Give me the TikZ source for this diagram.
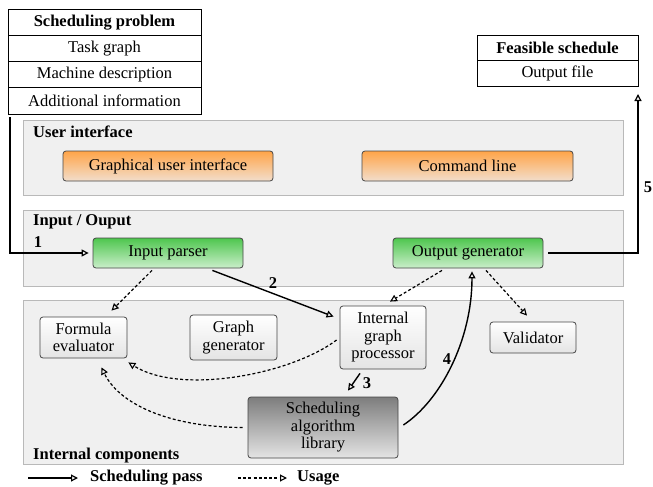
\documentclass[tikz,border=0pt]{standalone}
\usepackage{fontspec}
\setmainfont{Liberation Serif}
\usetikzlibrary{arrows.meta}

\definecolor{panelfill}{RGB}{240,240,240}
\definecolor{paneldraw}{RGB}{185,185,185}
\definecolor{boxdraw}{RGB}{70,70,70}
\definecolor{orangetop}{RGB}{255,164,72}
\definecolor{orangebot}{RGB}{242,222,204}
\definecolor{greentop}{RGB}{78,198,78}
\definecolor{greenbot}{RGB}{202,238,202}
\definecolor{libtop}{RGB}{125,125,125}
\definecolor{libbot}{RGB}{228,228,228}
\definecolor{plaintop}{RGB}{255,255,255}
\definecolor{plainbot}{RGB}{228,228,228}

\tikzset{
  txt/.style={font=\fontsize{16.5}{17.5}\selectfont},
  boldtxt/.style={font=\fontsize{16.5}{17.5}\selectfont\bfseries},
  panel/.style={draw=paneldraw, fill=panelfill, line width=0.9pt},
  cell/.style={draw=black, line width=0.8pt, fill=white, inner sep=0pt,
    minimum width=193pt, minimum height=26.25pt, txt},
  fcell/.style={cell, minimum width=161pt, minimum height=25.5pt},
  comp/.style={draw=boxdraw, line width=0.8pt, rounded corners=3pt,
    inner sep=0pt, align=center, txt},
  plainbox/.style={comp, top color=plaintop, bottom color=plainbot},
  orangebox/.style={comp, top color=orangetop, bottom color=orangebot},
  greenbox/.style={comp, top color=greentop, bottom color=greenbot},
  libbox/.style={comp, top color=libtop, bottom color=libbot},
  pass/.style={line width=1.4pt, -{Triangle[open, length=7pt, width=7pt, line width=1.2pt]}},
  usage/.style={line width=1.2pt, dash pattern=on 3pt off 2.2pt,
    -{Triangle[open, length=7pt, width=7pt, line width=1.1pt]}},
  numlabel/.style={boldtxt, inner sep=0pt}
}

\begin{document}
\begin{tikzpicture}[x=1pt, y=-1pt]
\useasboundingbox (0,0) rectangle (653,487);

% layer panels
\draw[panel] (23,120) rectangle (623,195);
\draw[panel] (23,210) rectangle (623,286);
\draw[panel] (23,300) rectangle (623,464);
\node[boldtxt, anchor=west, inner sep=0pt] (uititle) at (33,132) {User interface};
\node[boldtxt, anchor=west, inner sep=0pt] (iotitle) at (33,222) {Input / Ouput};
\node[boldtxt, anchor=west, inner sep=0pt] (ictitle) at (33,456) {Internal components};

% problem description
\node[cell, boldtxt] (sp) at (104.5,22.1) {Scheduling problem};
\node[cell] (tg) at (104.5,48.4) {Task graph};
\node[cell] (md) at (104.5,74.6) {Machine description};
\node[cell] (ai) at (104.5,100.9) {Additional information};

% result description
\node[fcell, boldtxt] (fs) at (557.5,47.75) {Feasible schedule};
\node[fcell] (of) at (557.5,73.25) {Output file};

% user interface
\node[orangebox, minimum width=210pt, minimum height=30pt] (gui) at (168,166) {Graphical user interface};
\node[orangebox, minimum width=211pt, minimum height=30pt] (cl) at (467.5,166) {Command line};

% input / output
\node[greenbox, minimum width=150pt, minimum height=30pt] (ip) at (168,253) {Input parser};
\node[greenbox, minimum width=150pt, minimum height=30pt] (og) at (468,253) {Output generator};

% internal components
\node[plainbox, minimum width=87pt, minimum height=41pt] (fe) at (83.5,337.5) {Formula\\evaluator};
\node[plainbox, minimum width=87pt, minimum height=45pt] (gg) at (233.5,337.5) {Graph\\generator};
\node[plainbox, minimum width=86pt, minimum height=63pt] (igp) at (383,337.5) {Internal\\graph\\processor};
\node[plainbox, minimum width=86pt, minimum height=31pt] (val) at (533,337.5) {Validator};
\node[libbox, minimum width=150pt, minimum height=61pt] (lib) at (323,427.5) {Scheduling\\algorithm\\library};

% scheduling pass
\coordinate (src) at (10,117);
\coordinate (dst) at (638,94);
\draw[pass] (src) |- ([xshift=-4pt]ip.west);
\node[numlabel] (n1) at (38,242) {1};
\draw[pass] ([xshift=-31pt,yshift=-2pt]ip.south east) -- ([xshift=-6pt,yshift=-11pt]igp.north west);
\node[numlabel] (n2) at (273,283) {2};
\draw[pass] ([xshift=-23pt,yshift=-4pt]igp.south) -- ([xshift=25pt,yshift=6pt]lib.north);
\node[numlabel] (n3) at (367,383) {3};
\draw[pass] ([xshift=5pt,yshift=2.5pt]lib.east) .. controls ([xshift=42pt,yshift=27pt]lib.east) and ([xshift=4pt,yshift=-72pt]og.south) .. ([xshift=4pt,yshift=-3pt]og.south);
\node[numlabel] (n4) at (447,359) {4};
\draw[pass] ([xshift=5pt]og.east) -| (dst);
\node[numlabel] (n5) at (648,187) {5};

% usage
\draw[usage] ([xshift=-16pt,yshift=-2pt]ip.south) -- ([xshift=28pt,yshift=6pt]fe.north);
\draw[usage] ([xshift=-26pt,yshift=-2pt]og.south) -- ([xshift=7pt,yshift=4pt]igp.north);
\draw[usage] ([xshift=18pt,yshift=-2pt]og.south) -- ([xshift=-6pt,yshift=6pt]val.north);
\draw[usage] ([xshift=-3pt,yshift=-2.5pt]igp.west) .. controls (290,375) and (180,395) .. ([xshift=1pt,yshift=-4pt]fe.south east);
\draw[usage] ([xshift=-5pt]lib.west) .. controls (165,427) and (118,402) .. ([xshift=18pt,yshift=-9pt]fe.south);

% legend
\coordinate (lp0) at (28,478);
\coordinate (lp1) at (78,478);
\coordinate (lu0) at (238,478);
\coordinate (lu1) at (287,478);
\draw[pass] (lp0) -- (lp1);
\node[boldtxt, anchor=west, inner sep=0pt] (lpt) at (90,478) {Scheduling pass};
\draw[usage] (lu0) -- (lu1);
\node[boldtxt, anchor=west, inner sep=0pt] (lut) at (297,478) {Usage};
\end{tikzpicture}
\end{document}
